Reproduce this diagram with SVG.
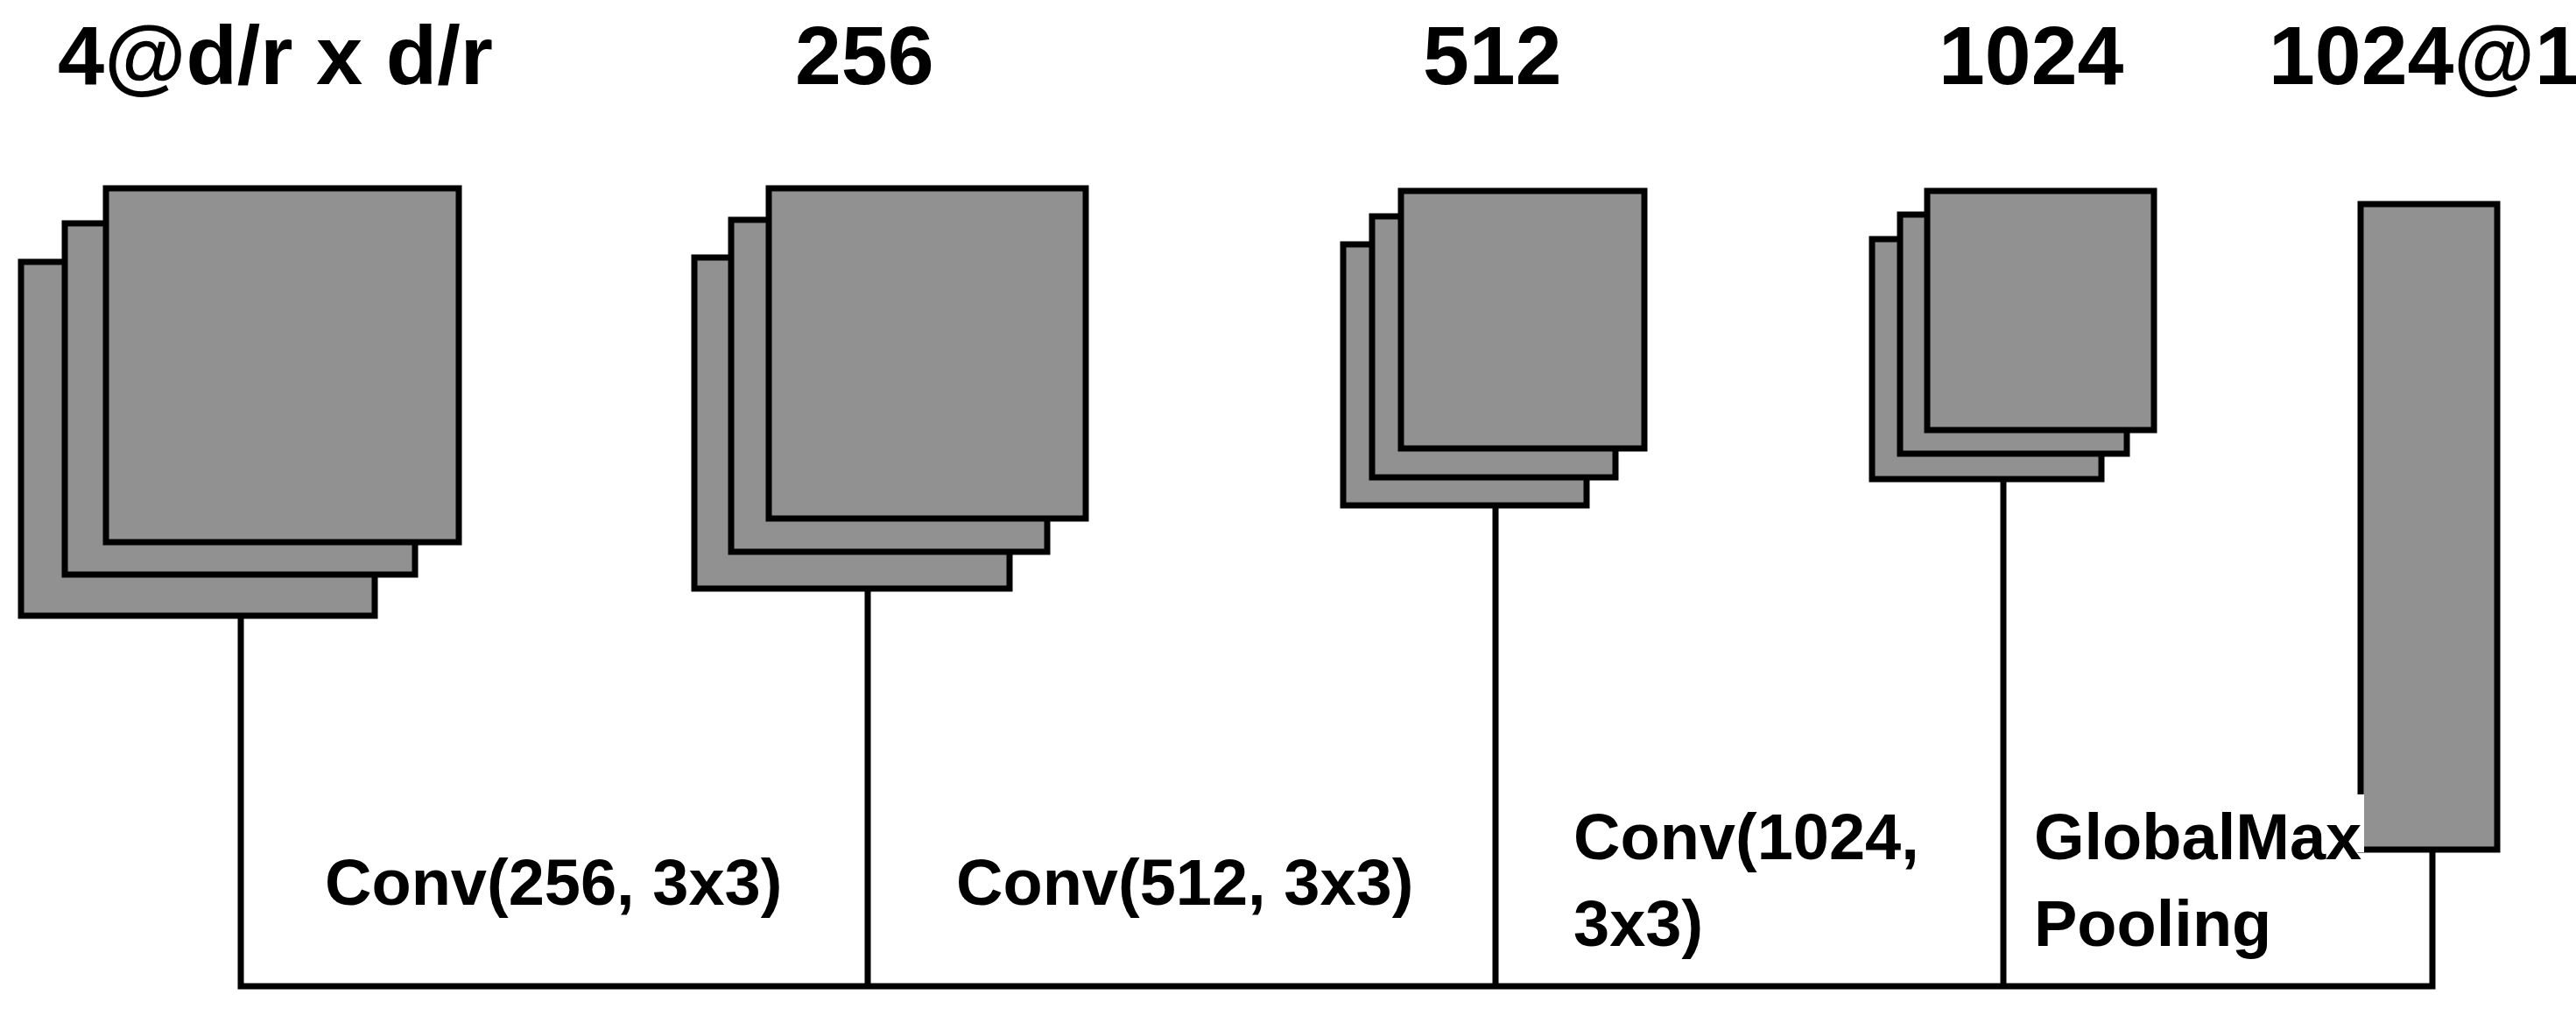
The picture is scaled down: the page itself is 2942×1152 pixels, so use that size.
<svg xmlns="http://www.w3.org/2000/svg" width="2942" height="1152" viewBox="0 0 2942 1152">
<style>
.m{fill:#919191;stroke:#000;stroke-width:7}
.c{fill:none;stroke:#000;stroke-width:7}
.t{font-family:"Liberation Sans",Arial,sans-serif;font-weight:bold;fill:#000}
.h{font-size:95px}
.l{font-size:74px}
</style>
<rect width="2942" height="1152" fill="#fff"/>
<g id="connectors">
<path class="c" d="M275 700V1126H2778V970"/>
<path class="c" d="M991 669V1126"/>
<path class="c" d="M1708 577V1126"/>
<path class="c" d="M2288 547V1126"/>
</g>
<g id="n1">
<rect class="m" x="24" y="299" width="404" height="404"/>
<rect class="m" x="74" y="255" width="400" height="401"/>
<rect class="m" x="121" y="215" width="403" height="404"/>
<text class="t h" x="66" y="96" textLength="497" lengthAdjust="spacingAndGlyphs">4@d/r x d/r</text>
</g>
<g id="n2">
<rect class="m" x="793" y="294" width="360" height="378"/>
<rect class="m" x="835" y="251" width="361" height="379"/>
<rect class="m" x="878" y="215" width="362" height="377"/>
<text class="t h" x="908" y="96">256</text>
</g>
<g id="n3">
<rect class="m" x="1534" y="279" width="278" height="298"/>
<rect class="m" x="1567" y="247" width="278" height="298"/>
<rect class="m" x="1600" y="218" width="278" height="294"/>
<text class="t h" x="1625" y="96">512</text>
</g>
<g id="n4">
<rect class="m" x="2138" y="273" width="262" height="274"/>
<rect class="m" x="2170" y="245" width="259" height="273"/>
<rect class="m" x="2201" y="218" width="259" height="273"/>
<text class="t h" x="2214" y="96">1024</text>
</g>
<g id="n5">
<rect class="m" x="2696" y="233" width="156" height="737"/>
<rect x="2680" y="907" width="20" height="66" fill="#fff"/>
<text class="t h" x="2591" y="96">1024@1</text>
</g>
<g id="labels">
<text class="t l" x="371" y="1033">Conv(256, 3x3)</text>
<text class="t l" x="1092" y="1033">Conv(512, 3x3)</text>
<text class="t l" x="1797" y="981">Conv(1024,</text>
<text class="t l" x="1797" y="1080">3x3)</text>
<text class="t l" x="2323" y="981">GlobalMax</text>
<text class="t l" x="2323" y="1080">Pooling</text>
</g>
</svg>
